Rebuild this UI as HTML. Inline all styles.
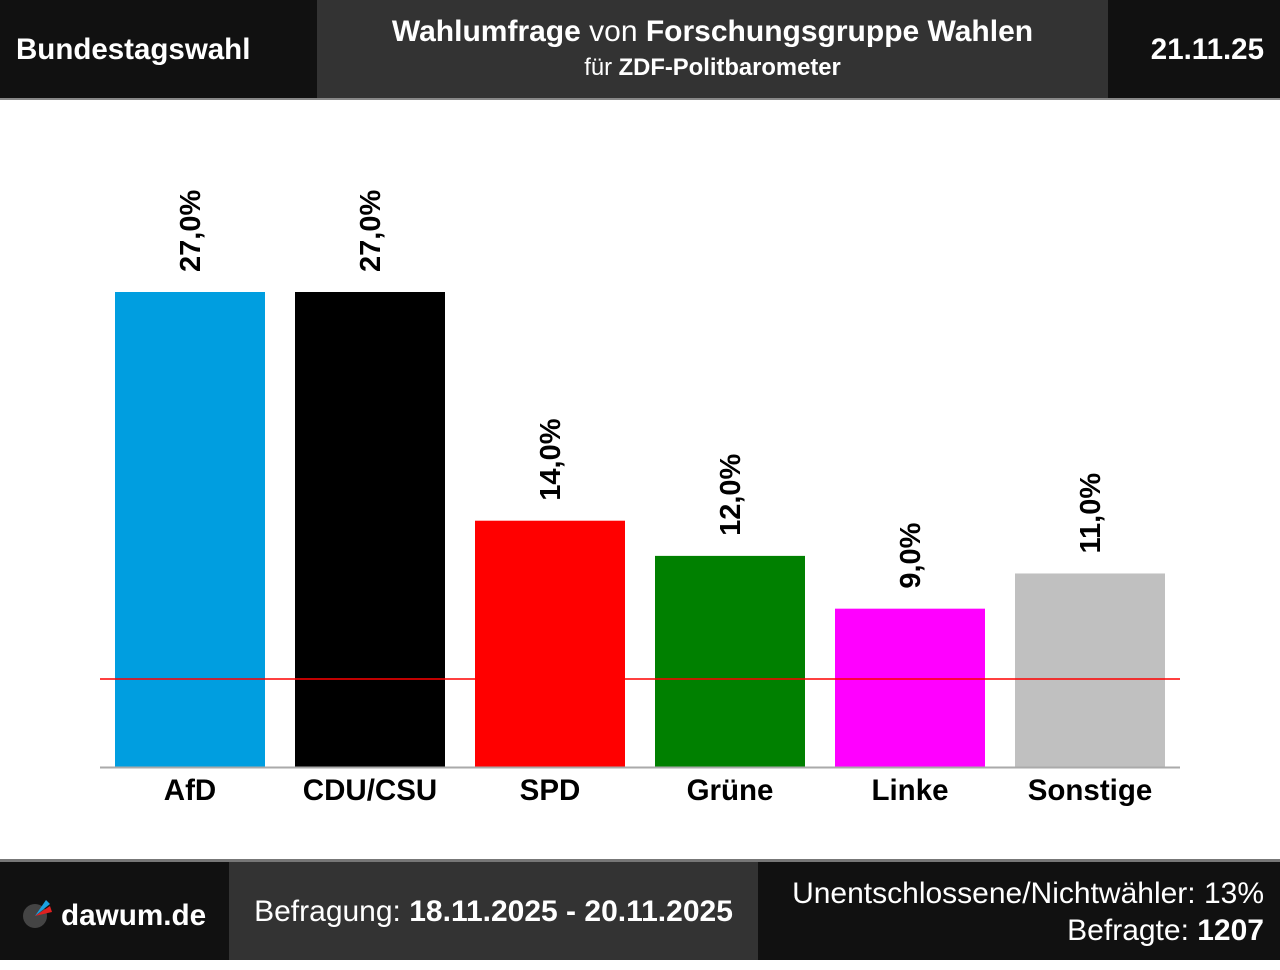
<!DOCTYPE html>
<html><head><meta charset="utf-8"><style>
body{margin:0;width:1280px;height:960px;background:#fff;font-family:"Liberation Sans",sans-serif;position:relative;overflow:hidden}
.p{position:absolute;color:#fff;box-sizing:border-box}
</style></head><body>
<div class="p" style="left:0;top:0;width:317px;height:98px;background:#111;font-weight:bold;font-size:29.5px;line-height:100px;padding-left:16px">Bundestagswahl</div>
<div class="p" style="left:317px;top:0;width:791px;height:98px;background:#333;text-align:center">
<div style="font-size:30px;margin-top:14px;line-height:36px"><b>Wahlumfrage</b> von <b>Forschungsgruppe Wahlen</b></div>
<div style="font-size:23.8px;margin-top:4px;line-height:28px">für <b>ZDF-Politbarometer</b></div></div>
<div class="p" style="left:1108px;top:0;width:172px;height:98px;background:#111;font-weight:bold;font-size:29.5px;line-height:100px;text-align:right;padding-right:16px">21.11.25</div>
<div class="p" style="left:0;top:98px;width:1280px;height:2px;background:#888"></div>
<svg id="chart" width="1280" height="760" style="position:absolute;left:0;top:100px"></svg>
<div class="p" style="left:0;top:859px;width:1280px;height:3px;background:#777"></div>
<div class="p" style="left:0;top:862px;width:229px;height:98px;background:#111;font-weight:bold;font-size:29.7px;line-height:108px;padding-left:61px">dawum.de
<svg style="position:absolute;left:22px;top:36px" width="32" height="32" viewBox="0 0 32 32"><circle cx="13" cy="18" r="12" fill="#444"/><polygon points="13,18 24,2 28,6" fill="#1aa0e0"/><polygon points="13,18 28,8 30,14" fill="#e02020"/></svg></div>
<div class="p" style="left:229px;top:862px;width:529px;height:98px;background:#333;font-size:30px;line-height:100px;text-align:center">Befragung: <b>18.11.2025 - 20.11.2025</b></div>
<div class="p" style="left:758px;top:862px;width:522px;height:98px;background:#111;font-size:30px;text-align:right;padding-right:16px;padding-top:13px;line-height:37px">Unentschlossene/Nichtwähler: 13%<br>Befragte: <b>1207</b></div>
<script>
const parties=["AfD","CDU/CSU","SPD","Grüne","Linke","Sonstige"];
const values=[27,27,14,12,9,11];
const colors=["#009ee0","#000000","#ff0000","#008000","#ff00ff","#c0c0c0"];
const threshold=5;
const svg=document.getElementById('chart');
const NS='http://www.w3.org/2000/svg';
const base=667, scale=475/27;
const y=v=>base-v*scale;
const x=i=>115+i*180;
function mk(t,a){const e=document.createElementNS(NS,t);for(const k in a)e.setAttribute(k,a[k]);svg.appendChild(e);return e;}
values.forEach((v,i)=>{
 const r=mk('rect',{x:x(i),y:y(v),width:150,height:v*scale,fill:colors[i]});
 
 
 const cx=x(i)+75+10, ty=y(v)-20;
 const t=mk('text',{x:0,y:0,transform:`translate(${cx},${ty}) rotate(-90)`,'font-size':29,'font-weight':'bold',fill:'#000','font-family':'Liberation Sans'});
 t.textContent=v.toFixed(1).replace('.',',')+'%';
 
 
 const l=mk('text',{x:x(i)+75,y:base+33,'text-anchor':'middle','font-size':29.5,'font-weight':'bold',fill:'#000','font-family':'Liberation Sans'});
 l.textContent=parties[i];
 
 
});
const ax=mk('line',{x1:100,x2:1180,y1:base+0.5,y2:base+0.5,stroke:'#aaa','stroke-width':2});


const th=mk('line',{x1:100,x2:1180,y1:y(threshold),y2:y(threshold),stroke:'#ff0000','stroke-width':1.5});


</script>
</body></html>
